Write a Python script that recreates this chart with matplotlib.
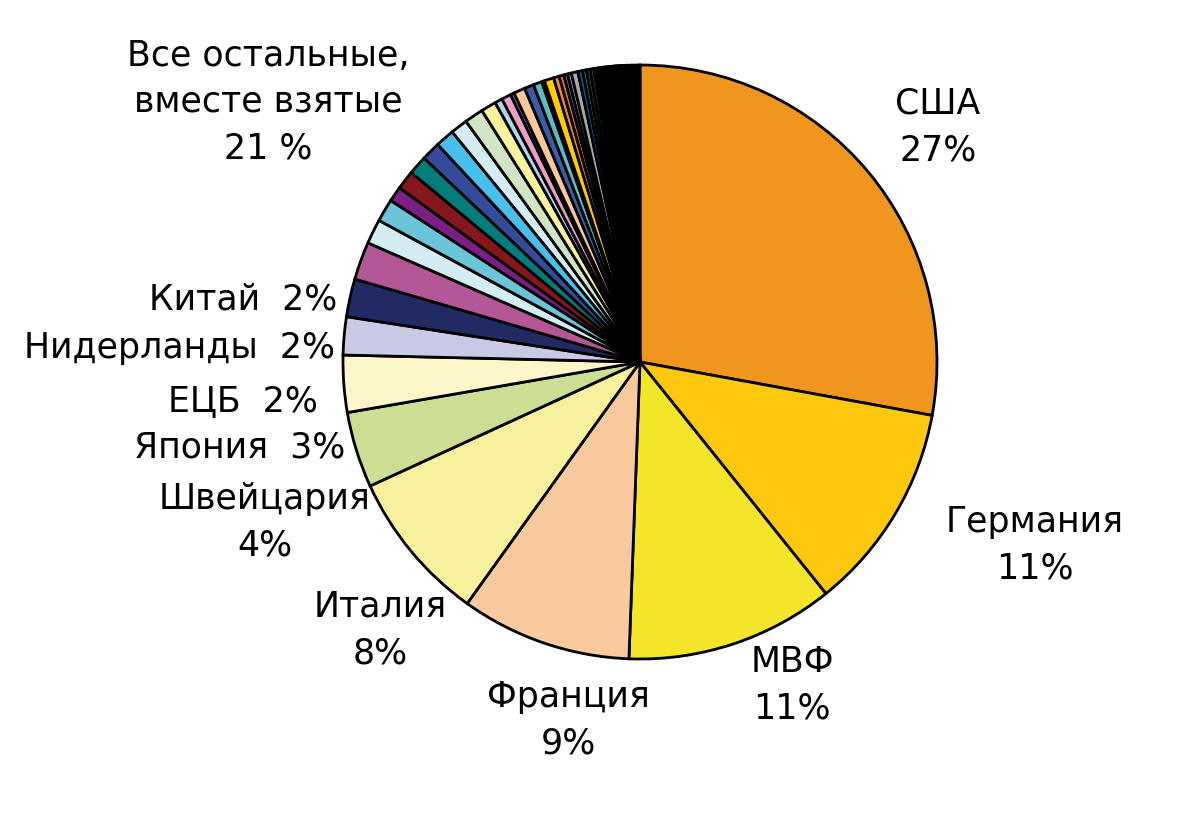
import matplotlib
matplotlib.use("Agg")
from matplotlib import pyplot as plt

main_names = ["США", "Германия", "МВФ", "Франция", "Италия", "Швейцария",
              "Япония", "ЕЦБ", "Нидерланды", "Китай"]
main_values = [27, 11, 11, 9, 8, 4, 3, 2, 2, 2]
main_colors = ["#f0951e", "#fdc80e", "#f3e52a", "#f8c99d", "#f7f09d", "#cddd93",
               "#fcf6c8", "#cac9e3", "#222a64", "#b35796"]

small_values = [1.3, 1.2, 0.8, 1.0, 1.0, 1.0, 1.0, 0.9, 1.0, 0.8, 0.4, 0.5,
                0.2, 0.6, 0.5, 0.45, 0.15, 0.5, 0.3, 0.25, 0.2, 0.2, 0.35, 0.25,
                0.2, 0.2, 0.2, 0.15, 0.15, 0.15, 0.15, 0.1, 0.1, 0.1, 0.1, 0.1,
                0.1, 0.1, 0.1, 0.1, 0.1, 0.1, 0.7]
small_colors = ["#d4ecf4", "#6cc4d8", "#7b1f84", "#84161c", "#007d7a", "#344c9c",
                "#48bfeb", "#d4ecf4", "#d1e4c4", "#f9f29e", "#b4d4ee", "#ee9ec4",
                "#8c6cb4", "#fac89c", "#3c5ca8", "#5cbcc4", "#a4c83c", "#ffcc00",
                "#f08c1c", "#f0781c", "#6c64ac", "#b4b4b4", "#a8a8a8", "#1c4c8c",
                "#1c9c6c", "#1c5c2c", "#3c3c3c", "#8c3c1c", "#4c4cac", "#5c5c9c",
                "#2c2c2c", "#e01c1c", "#1c1c1c", "#f0e01c", "#1c1c1c", "#3cacdc",
                "#1c1c1c", "#8c8c8c", "#c8a01c", "#1c1c1c", "#4c4c4c", "#1c1c1c",
                "#000000"]

values = main_values + small_values
colors = main_colors + small_colors

H = 832
fig = plt.figure(figsize=(12, 8.32), dpi=100)
ax = fig.add_axes([0, 0, 1, 1])

ax.pie(values, colors=colors, startangle=90, counterclock=False,
       center=(640, H - 362), radius=297,
       wedgeprops=dict(edgecolor="black", linewidth=2), frame=True)
ax.set_xlim(0, 1200)
ax.set_ylim(0, H)
ax.set_aspect("equal")
ax.axis("off")

fs = 25
labels = [
    (938, 127, "США\n27%"),
    (1035, 545, "Германия\n11%"),
    (792, 685, "МВФ\n11%"),
    (568, 720, "Франция\n9%"),
    (380, 630, "Италия\n8%"),
    (265, 522, "Швейцария\n4%"),
    (240, 448, "Япония  3%"),
    (243, 402, "ЕЦБ  2%"),
    (180, 348, "Нидерланды  2%"),
    (243, 300, "Китай  2%"),
    (268, 102, "Все остальные,\nвместе взятые\n21 %"),
]
for x, y, s in labels:
    ax.text(x, H - y, s, ha="center", va="center", fontsize=fs,
            linespacing=1.45, family="DejaVu Sans")

fig.savefig("out.png", dpi=100)
